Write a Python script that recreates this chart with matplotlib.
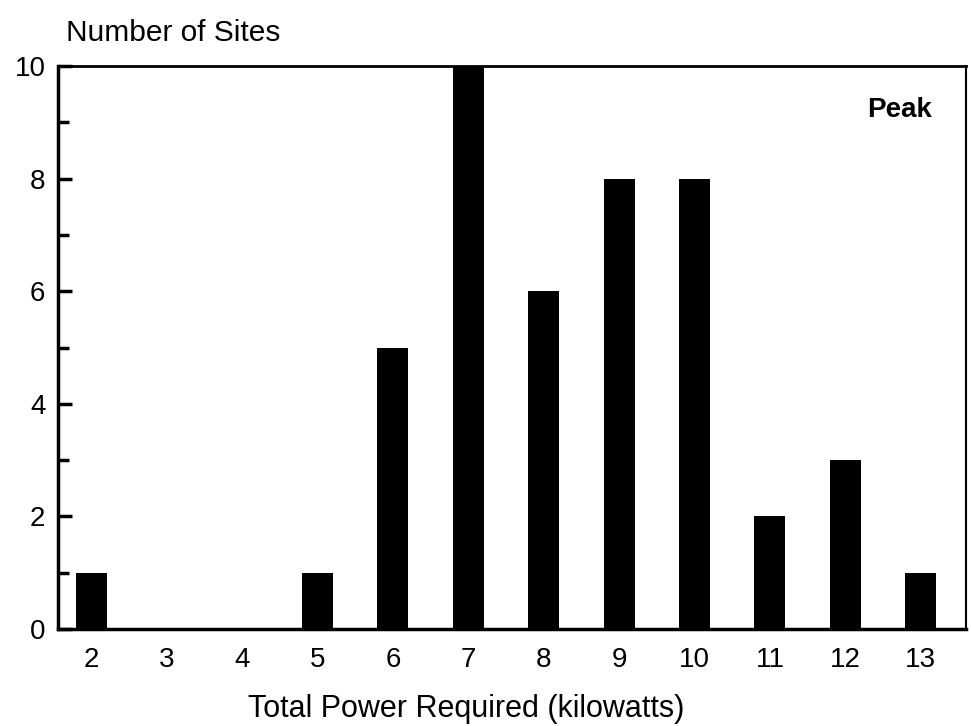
import matplotlib
matplotlib.use("Agg")
import matplotlib.pyplot as plt
from matplotlib.ticker import MultipleLocator

# kW required and number of sites per bin
power_kw = [2, 3, 4, 5, 6, 7, 8, 9, 10, 11, 12, 13]
num_sites = [1, 0, 0, 1, 5, 10, 6, 8, 8, 2, 3, 1]
tick_labels = [str(p) for p in power_kw]

plt.rcParams['font.family'] = ['Liberation Sans', 'DejaVu Sans']

fig = plt.figure(figsize=(9.71, 7.26), dpi=100)
ax = fig.add_axes([0.0597, 0.1336, 0.9352, 0.7754])

ax.bar(power_kw, num_sites, width=0.41, color='black')

ax.set_xlim(1.56, 13.6)
ax.set_ylim(0, 10)

ax.set_xticks(power_kw)
ax.set_xticklabels(tick_labels)
ax.yaxis.set_major_locator(MultipleLocator(2))
ax.yaxis.set_minor_locator(MultipleLocator(1))

ax.tick_params(axis='x', length=0, pad=13, labelsize=20)
ax.tick_params(axis='y', which='major', direction='in', length=10, width=2.5,
               pad=9, labelsize=20)
ax.tick_params(axis='y', which='minor', direction='in', length=8, width=2.5)

for sp in ax.spines.values():
    sp.set_linewidth(2.5)
ax.spines['right'].set_linewidth(1.5)
ax.spines['top'].set_linewidth(2)

ax.set_xlabel("Total Power Required (kilowatts)", fontsize=22)
ax.xaxis.set_label_coords(0.449, -0.115)
fig.text(0.068, 0.9545, "Number of Sites", fontsize=21.5, ha='left', va='center')
ax.text(0.963, 0.922, "Peak", transform=ax.transAxes, fontsize=20,
        fontweight='bold', ha='right', va='center')

fig.savefig("out.png", dpi=100)
